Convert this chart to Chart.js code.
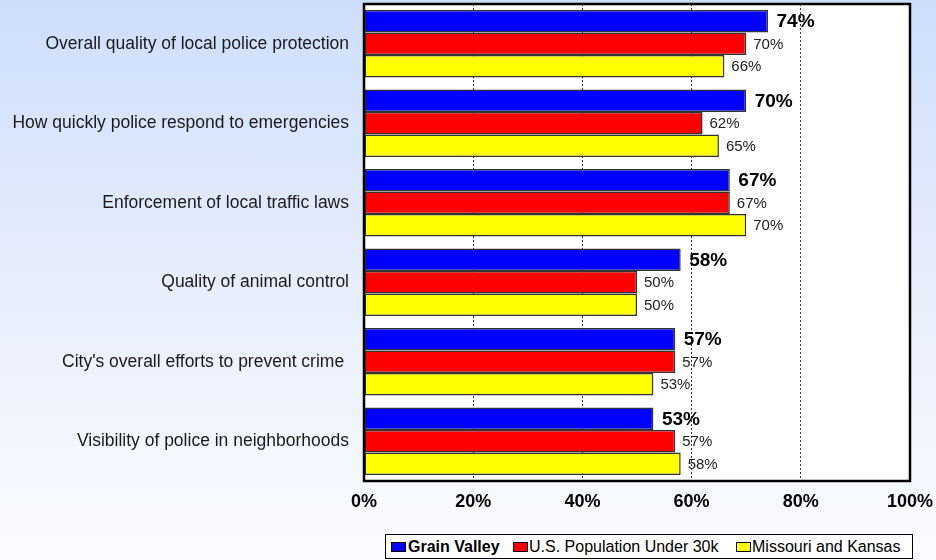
<!DOCTYPE html>
<html>
<head>
<meta charset="utf-8">
<script src="https://cdn.jsdelivr.net/npm/chart.js@4"></script>
<style>
  html, body { margin: 0; padding: 0; }
  body { width: 936px; height: 560px; overflow: hidden; position: relative;
         background: linear-gradient(to bottom, #cddefc 0%, #e4ecfc 45%, #fbfcff 100%);
         font-family: Arial, "Liberation Sans", sans-serif; }
  #wrap { position: absolute; left: 0; top: 0; width: 936px; height: 560px; }
  #legend { position: absolute; left: 385px; top: 534px; height: 25px; width: 528px; box-sizing: border-box;
            border: 1.5px solid #000; background: #fff; font-size: 16px; color: #000; }
  #legend .sw { position: absolute; top: 7px; width: 13px; height: 8px; border: 1px solid #000; }
  #legend .tx { position: absolute; top: 3px; line-height: 17px; white-space: nowrap; }
</style>
</head>
<body>
<div id="wrap"><canvas id="chart" width="936" height="560"></canvas></div>
<div id="legend">
  <span class="sw" style="left:5px;background:#0000ff"></span><span class="tx" style="left:22px;font-weight:bold">Grain Valley</span>
  <span class="sw" style="left:127px;background:#ff0000"></span><span class="tx" style="left:143px">U.S. Population Under 30k</span>
  <span class="sw" style="left:350px;background:#ffff00"></span><span class="tx" style="left:366px">Missouri and Kansas</span>
</div>
<script>
// categorías y series
const categories = [
  'Overall quality of local police protection',
  'How quickly police respond to emergencies',
  'Enforcement of local traffic laws',
  'Quality of animal control',
  "City's overall efforts to prevent crime ",
  'Visibility of police in neighborhoods'
];
const grainValley = [74, 70, 67, 58, 57, 53];
const usUnder30k = [70, 62, 67, 50, 57, 57];
const moKansas = [66, 65, 70, 50, 53, 58];
const xTicks = [0, 20, 40, 60, 80, 100];

const plotBg = {
  id: 'plotBg',
  beforeDraw(c) {
    const a = c.chartArea, g = c.ctx;
    g.save();
    g.fillStyle = '#fff';
    g.fillRect(a.left, a.top, a.right - a.left, a.bottom - a.top);
    g.restore();
  },
  afterDatasetsDraw(c) {
    const a = c.chartArea, g = c.ctx;
    g.save();
    g.strokeStyle = '#000';
    g.lineWidth = 2.5;
    g.strokeRect(a.left, a.top, a.right - a.left, a.bottom - a.top);
    // etiquetas de valores
    g.textBaseline = 'middle';
    g.textAlign = 'left';
    c.data.datasets.forEach((ds, i) => {
      const meta = c.getDatasetMeta(i);
      meta.data.forEach((bar, j) => {
        if (i === 0) { g.font = 'bold 19px Arial, "Liberation Sans"'; g.fillStyle = '#000'; }
        else { g.font = '15px Arial, "Liberation Sans"'; g.fillStyle = '#222'; }
        g.fillText(ds.data[j] + '%', bar.x + (i === 0 ? 8.5 : 7), bar.y + 1);
      });
    });
    g.restore();
  }
};

const mk = (label, data, color) => ({
  label, data, backgroundColor: color, borderColor: '#333', borderWidth: 1.5,
  borderSkipped: false, categoryPercentage: 0.851, barPercentage: 1
});

new Chart(document.getElementById('chart'), {
  type: 'bar',
  data: {
    labels: categories,
    datasets: [
      mk('Grain Valley', grainValley, '#0000ff'),
      mk('U.S. Population Under 30k', usUnder30k, '#ff0000'),
      mk('Missouri and Kansas', moKansas, '#ffff00')
    ]
  },
  options: {
    indexAxis: 'y',
    responsive: false,
    animation: false,
    layout: { padding: { top: 4, right: 26, bottom: 39, left: 0 } },
    plugins: { legend: { display: false }, tooltip: { enabled: false } },
    scales: {
      x: {
        min: 0, max: 100,
        afterBuildTicks: s => { s.ticks = xTicks.map(v => ({ value: v })); },
        afterFit: s => { s.height = 40; s.paddingLeft = 0; s.paddingRight = 0; },
        grid: { color: '#333', lineWidth: 1, drawTicks: false },
        border: { display: false, dash: [2, 2] },
        ticks: { padding: 10, color: '#000', font: { family: 'Arial, "Liberation Sans"', size: 18, weight: 'bold' },
                 callback: v => v + '%' }
      },
      y: {
        afterFit: s => { s.width = 364; s.paddingTop = 0; s.paddingBottom = 0; },
        grid: { display: false },
        border: { display: false },
        ticks: { padding: 7, color: '#1a1a1a', font: { family: 'Arial, "Liberation Sans"', size: 17.5 } }
      }
    }
  },
  plugins: [plotBg]
});
</script>
</body>
</html>
